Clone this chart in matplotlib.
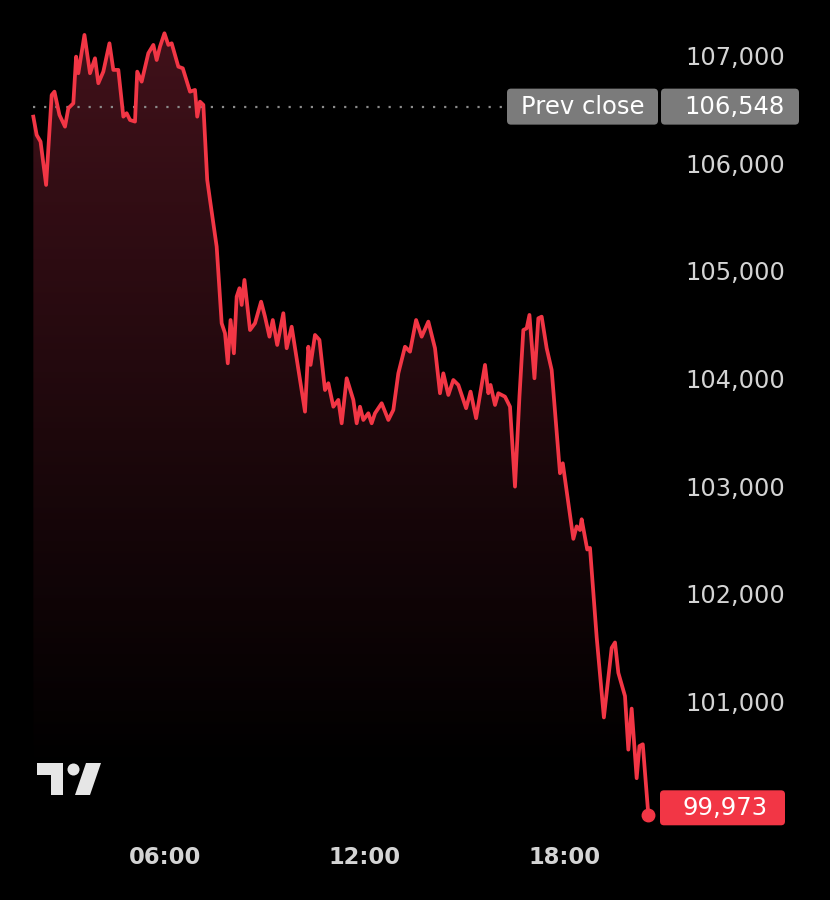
import matplotlib
matplotlib.use('Agg')
import matplotlib.pyplot as plt
import matplotlib.transforms as mtransforms
import numpy as np
from matplotlib.colors import LinearSegmentedColormap
from matplotlib.patches import FancyBboxPatch, Polygon, Circle

# intraday prices (local time, price)
times = ['02:03', '02:09', '02:16', '02:26', '02:36', '02:41', '02:50', '03:00', '03:06', '03:15',
         '03:20', '03:24', '03:35', '03:45', '03:54', '04:00', '04:09', '04:20', '04:27', '04:36',
         '04:45', '04:51', '04:57', '05:06', '05:10', '05:18', '05:30', '05:39', '05:45', '05:51',
         '05:59', '06:06', '06:12', '06:24', '06:32', '06:45', '06:54', '06:58', '07:03', '07:09',
         '07:16', '07:21', '07:33', '07:42', '07:48', '07:53', '07:58', '08:04', '08:09', '08:14',
         '08:18', '08:23', '08:33', '08:42', '08:53', '09:00', '09:08', '09:14', '09:22', '09:33',
         '09:39', '09:48', '10:12', '10:18', '10:22', '10:30', '10:38', '10:48', '10:54', '11:03',
         '11:12', '11:18', '11:27', '11:39', '11:45', '11:51', '11:57', '12:06', '12:12', '12:18',
         '12:30', '12:42', '12:51', '13:00', '13:12', '13:21', '13:32', '13:42', '13:54', '14:06',
         '14:15', '14:21', '14:30', '14:39', '14:48', '15:02', '15:10', '15:20', '15:36', '15:42',
         '15:46', '15:54', '16:00', '16:12', '16:21', '16:30', '16:38', '16:45', '16:51', '16:56',
         '17:05', '17:12', '17:18', '17:27', '17:36', '17:51', '17:56', '18:12', '18:15', '18:21',
         '18:27', '18:30', '18:40', '18:45', '18:57', '19:10', '19:24', '19:30', '19:36', '19:48',
         '19:54', '20:00', '20:09', '20:14', '20:20', '20:30']
prices = [106455, 106285, 106223, 105821, 106656, 106687, 106471, 106362, 106533, 106579,
          107012, 106858, 107214, 106858, 106997, 106765, 106873, 107136, 106889, 106889,
          106455, 106487, 106424, 106409, 106873, 106780, 107044, 107121, 106981, 107105,
          107229, 107121, 107136, 106919, 106904, 106687, 106703, 106455, 106594, 106564,
          105867, 105682, 105248, 104537, 104444, 104165, 104567, 104258, 104784, 104862,
          104707, 104939, 104474, 104537, 104737, 104598, 104412, 104567, 104335, 104630,
          104305, 104505, 103716, 104319, 104150, 104428, 104382, 103917, 103980, 103762,
          103825, 103608, 104026, 103825, 103608, 103762, 103639, 103701, 103608, 103701,
          103794, 103639, 103732, 104072, 104319, 104273, 104567, 104412, 104552, 104305,
          103887, 104072, 103871, 104010, 103964, 103748, 103902, 103655, 104150, 103887,
          103964, 103778, 103887, 103855, 103762, 103020, 103855, 104474, 104490, 104614,
          104026, 104583, 104598, 104305, 104103, 103144, 103237, 102651, 102535, 102651,
          102617, 102717, 102436, 102451, 101623, 100877, 101523, 101573, 101291, 101075,
          100578, 100959, 100313, 100611, 100628, 99973]

prev_close = 106548
last_price = prices[-1]
y_ticks = [101000, 102000, 103000, 104000, 105000, 106000, 107000]
x_tick_labels = ['06:00', '12:00', '18:00']

red = '#f23645'
label_color = '#d4d4d4'

hours = np.array([int(t[:2]) + int(t[3:]) / 60 for t in times])
prices = np.array(prices)

W, H = 830, 900
fig = plt.figure(figsize=(W / 100, H / 100), dpi=100, facecolor='black')
ax = fig.add_axes([0, 0, 1, 1])
ax.set_facecolor('black')
ax.set_xlim(1.05, 25.95)
ax.set_ylim(99182, 107538)
ax.axis('off')

# gradient area under the line
grad = np.linspace(1, 0, 256).reshape(-1, 1)
cmap = LinearSegmentedColormap.from_list('fade', ['black', '#41111a'])
img = ax.imshow(grad, extent=[hours[0], hours[-1], 100400, 107250], aspect='auto',
                cmap=cmap, origin='upper', zorder=1)
area = ax.fill_between(hours, prices, 99182, color='none', lw=0)
img.set_clip_path(area.get_paths()[0], transform=ax.transData)

# previous close dotted line (stops at the tag)
ax.plot([hours[0], 16.25], [prev_close, prev_close], ls=(0, (1, 4)), lw=1.6,
        color='#8c8c8c', zorder=2)

# price line
ax.plot(hours, prices, color=red, lw=2.7, zorder=3, solid_joinstyle='round')
ax.plot(hours[-1], last_price, 'o', color=red, ms=9, zorder=4)

# y labels on the right
ylab = mtransforms.blended_transform_factory(ax.transAxes, ax.transData)
for v in y_ticks:
    ax.text(0.886, v, f'{v:,}', transform=ylab, ha='center', va='center',
            fontsize=17.3, color=label_color)

# x labels
xlab = mtransforms.blended_transform_factory(ax.transData, ax.transAxes)
for lab in x_tick_labels:
    ax.text(int(lab[:2]), 1 - 857 / H, lab, transform=xlab, ha='center', va='center',
            fontsize=16.3, fontweight='bold', color=label_color)

# pixel transform (origin top-left) for the tags and logo
px = mtransforms.Affine2D().scale(1, -1).translate(0, H).scale(1 / W, 1 / H) + fig.transFigure


def ypix(v):
    return H - ax.transData.transform((0, v))[1]


def tag(x0, x1, v, fc, text, h=36, dy=0, tx=None):
    yc = ypix(v) + dy
    box = FancyBboxPatch((x0, yc - h / 2), x1 - x0, h, boxstyle='round,pad=0,rounding_size=4',
                         transform=px, fc=fc, ec='none', zorder=5)
    fig.patches.append(box)
    fig.text((x0 + x1) / 2 if tx is None else tx, yc, text, transform=px, ha='center',
             va='center', fontsize=17.5, color='white', zorder=6)


tag(507, 658, prev_close, '#7b7b7b', 'Prev close')
tag(661, 799, prev_close, '#7b7b7b', f'{prev_close:,}', tx=734)
tag(660, 785, last_price, red, f'{last_price:,}', h=35, dy=-7, tx=725)

# TradingView logo
logo = '#e6e6e6'
fig.patches.append(Polygon([(37, 763), (63, 763), (63, 795), (51, 795), (51, 775), (37, 775)],
                           closed=True, transform=px, fc=logo, ec='none'))
fig.patches.append(Circle((73.5, 769.5), 6, transform=px, fc=logo, ec='none'))
fig.patches.append(Polygon([(86, 763), (101, 763), (90, 795), (75, 795)],
                           closed=True, transform=px, fc=logo, ec='none'))

fig.savefig('out.png', dpi=100, facecolor='black')
